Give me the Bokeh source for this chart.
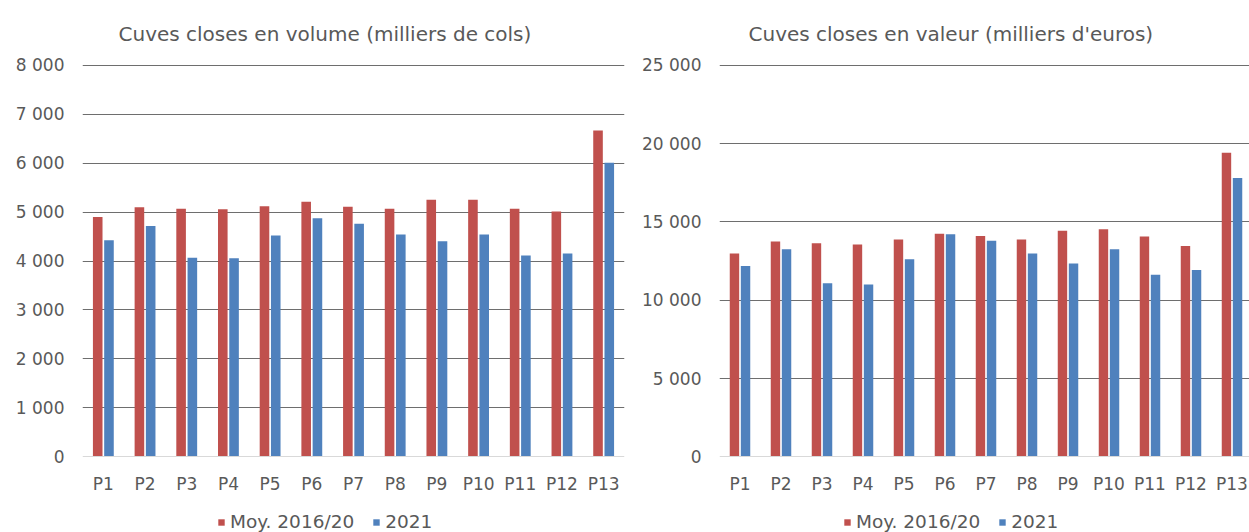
from bokeh.plotting import figure
from bokeh.models import Range1d, FixedTicker, Legend, LegendItem, ColumnDataSource
from bokeh.layouts import row
from bokeh.transform import dodge
from bokeh.embed import file_html
from bokeh.resources import INLINE

# ---- data ----
periods = ["P1", "P2", "P3", "P4", "P5", "P6", "P7", "P8", "P9", "P10", "P11", "P12", "P13"]
series_names = ["Moy. 2016/20", "2021"]

vol_moy = [4900, 5100, 5070, 5060, 5120, 5210, 5110, 5070, 5255, 5255, 5070, 5010, 6670]
vol_2021 = [4425, 4715, 4065, 4055, 4520, 4875, 4760, 4545, 4405, 4545, 4115, 4155, 6010]

val_moy = [12980, 13750, 13630, 13560, 13880, 14250, 14100, 13880, 14440, 14530, 14060, 13460, 19420]
val_2021 = [12190, 13260, 11080, 11000, 12620, 14210, 13800, 12980, 12340, 13260, 11630, 11930, 17810]

vol_ticks = [0, 1000, 2000, 3000, 4000, 5000, 6000, 7000, 8000]
vol_tick_labels = ["0", "1 000", "2 000", "3 000", "4 000", "5 000", "6 000", "7 000", "8 000"]
val_ticks = [0, 5000, 10000, 15000, 20000, 25000]
val_tick_labels = ["0", "5 000", "10 000", "15 000", "20 000", "25 000"]

title_vol = "Cuves closes en volume (milliers de cols)"
title_val = "Cuves closes en valeur (milliers d'euros)"

# ---- style / layout ----
RED = "#C0504D"
BLUE = "#4F81BD"
TXT = "#595959"
FONT = "DejaVu Sans"
H = 532          # canvas height
TOP = 62         # space above the top gridline
VALUE_PX = 394   # pixels between 0 and the top tick
BELOW_PX = H - TOP - VALUE_PX   # room under the zero line for labels and legend


def make_chart(title, moy, y21, ticks, tick_labels, width, border_left, border_right,
               x_end, title_offset, legend_x):
    xs = list(range(1, len(periods) + 1))
    src = ColumnDataSource(dict(x=xs, moy=moy, y21=y21))
    top = ticks[-1] * 1.002
    y_start = -top * BELOW_PX / VALUE_PX
    p = figure(width=width, height=H, output_backend="svg", toolbar_location=None,
               x_range=Range1d(0.5, x_end), y_range=Range1d(y_start, top),
               min_border_left=border_left, min_border_right=border_right,
               min_border_top=TOP, min_border_bottom=0)
    p.outline_line_color = None
    p.background_fill_color = "white"
    p.border_fill_color = "white"

    r1 = p.vbar(x=dodge("x", -0.135, range=p.x_range), top="moy", width=0.23, bottom=0,
                source=src, fill_color=RED, line_color=None)
    r2 = p.vbar(x=dodge("x", 0.135, range=p.x_range), top="y21", width=0.23, bottom=0,
                source=src, fill_color=BLUE, line_color=None)

    # title
    p.title.text = title
    p.title.text_font = FONT
    p.title.text_font_size = "20px"
    p.title.text_font_style = "normal"
    p.title.text_color = TXT
    p.title.align = "left"
    p.title.offset = title_offset
    p.title.standoff = 38

    # x axis, drawn at the zero line
    p.xaxis.fixed_location = 0
    p.xaxis.ticker = FixedTicker(ticks=xs)
    p.xaxis.major_label_overrides = {x: lab for x, lab in zip(xs, periods)}
    p.xaxis.axis_line_color = "#D9D9D9"
    p.xaxis.major_tick_line_color = None
    p.xaxis.minor_tick_line_color = None
    p.xaxis.major_label_text_font = FONT
    p.xaxis.major_label_text_font_size = "17px"
    p.xaxis.major_label_text_color = TXT
    p.xaxis.major_label_standoff = 11

    # y axis
    p.yaxis.ticker = FixedTicker(ticks=ticks)
    p.yaxis.major_label_overrides = {t: lab for t, lab in zip(ticks, tick_labels)}
    p.yaxis.axis_line_color = None
    p.yaxis.major_tick_line_color = None
    p.yaxis.minor_tick_line_color = None
    p.yaxis.major_label_text_font = FONT
    p.yaxis.major_label_text_font_size = "17px"
    p.yaxis.major_label_text_color = TXT
    p.yaxis.major_label_standoff = 12

    p.xgrid.grid_line_color = None
    p.ygrid.ticker = FixedTicker(ticks=ticks[1:])
    p.ygrid.grid_line_color = "#6E6E6E"
    p.ygrid.grid_line_width = 1.2

    legend = Legend(items=[LegendItem(label=series_names[0], renderers=[r1]),
                           LegendItem(label=series_names[1], renderers=[r2])],
                    orientation="horizontal", location=(legend_x, 0),
                    glyph_width=8, glyph_height=8, label_standoff=5, spacing=18,
                    label_text_font=FONT, label_text_font_size="18.5px",
                    label_text_color=TXT, border_line_color=None,
                    background_fill_alpha=0, padding=0, margin=0)
    p.add_layout(legend)
    return p


left = make_chart(title_vol, vol_moy, vol_2021, vol_ticks, vol_tick_labels,
                  width=628, border_left=82, border_right=4, x_end=13.5,
                  title_offset=36, legend_x=135)
right = make_chart(title_val, val_moy, val_2021, val_ticks, val_tick_labels,
                   width=621, border_left=91, border_right=0, x_end=0.5 + 530 / 41.0,
                   title_offset=29, legend_x=124)

layout = row(left, right)
open("out.html", "w").write(file_html(layout, INLINE))
